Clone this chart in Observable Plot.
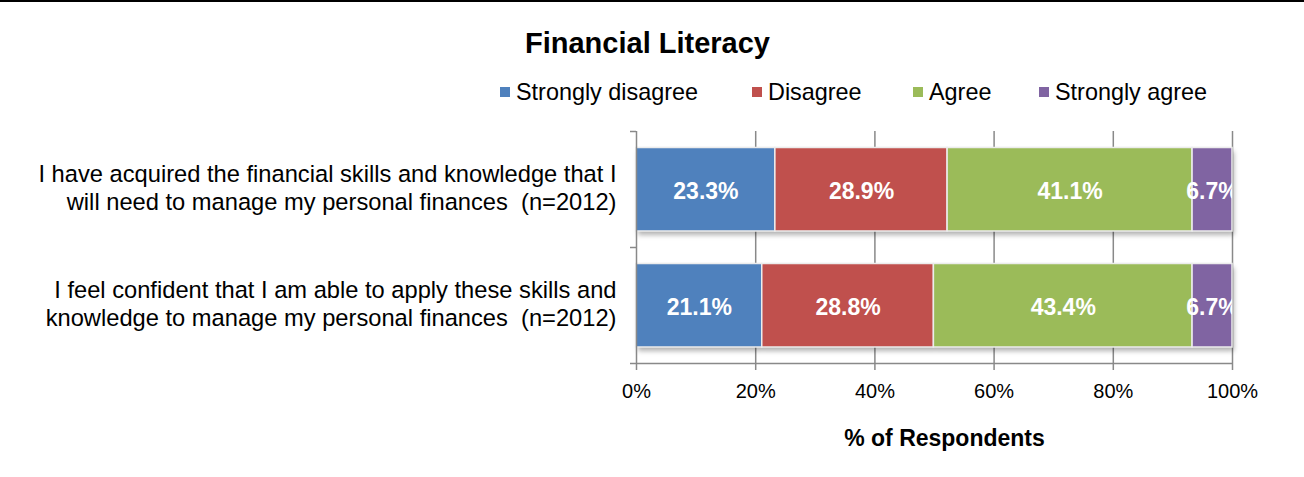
<!DOCTYPE html>
<html><head><meta charset="utf-8">
<script src="https://cdn.jsdelivr.net/npm/d3@7"></script>
<script src="https://cdn.jsdelivr.net/npm/@observablehq/plot@0.6"></script>
<style>
body{margin:0;background:#fff;font-family:"Liberation Sans",Arial,sans-serif;}
#wrap{width:1304px;height:477px;position:relative;overflow:hidden;background:#fff}
#head{position:relative;height:110px;border-top:2px solid #000;box-sizing:border-box}
#title{position:absolute;left:0;width:1295px;text-align:center;top:27px;font-size:29px;line-height:28px;font-weight:bold;color:#000}
.item{position:absolute;top:78.5px;font-size:23.4px;line-height:23px;color:#000;white-space:nowrap;padding-left:16px}
.sw{position:absolute;left:0;width:10px;height:10px;top:6.5px}
#chart svg{display:block}
</style></head><body>
<div id="wrap"><div id="head"><div id="title">Financial Literacy</div><div id="legend"></div></div><div id="chart"></div></div>
<script>
const statements = [
  "I have acquired the financial skills and knowledge that I\nwill need to manage my personal finances  (n=2012)",
  "I feel confident that I am able to apply these skills and\nknowledge to manage my personal finances  (n=2012)"
];
const responses = ["Strongly disagree", "Disagree", "Agree", "Strongly agree"];
const stronglyDisagree = [23.3, 21.1];
const disagree = [28.9, 28.8];
const agree = [41.1, 43.4];
const stronglyAgree = [6.7, 6.7];
const xTicks = [0, 20, 40, 60, 80, 100];
const colors = ["#4F81BD", "#C0504D", "#9BBB59", "#8064A2"];
const axisTitle = "% of Respondents";
const legendLefts = [500, 752, 913, 1039];

const series = [stronglyDisagree, disagree, agree, stronglyAgree];
const table = [];
statements.forEach((s, i) => {
  let acc = 0;
  series.forEach((vals, j) => {
    const v = vals[i];
    table.push({row: i, statement: s, response: responses[j], value: v, x1: acc, x2: acc + v});
    acc += v;
  });
});

// legend
const leg = document.getElementById("legend");
responses.forEach((r, j) => {
  const it = document.createElement("div");
  it.className = "item";
  it.style.left = legendLefts[j] + "px";
  const sw = document.createElement("span");
  sw.className = "sw";
  sw.style.background = colors[j];
  it.appendChild(sw);
  it.appendChild(document.createTextNode(r));
  leg.appendChild(it);
});

const gray = "#898989";
const font = '"Liberation Sans", Arial, sans-serif';
const chart = Plot.plot({
  width: 1304, height: 367,
  marginTop: 21, marginBottom: 114, marginLeft: 636, marginRight: 72,
  style: {fontFamily: font, background: "white", color: "black"},
  x: {domain: [0, 100]},
  y: {domain: [0, statements.length], reverse: true},
  color: {domain: responses, range: colors},
  marks: [
    Plot.ruleX(xTicks.slice(1), {stroke: gray, strokeWidth: 1.5}),
    Plot.rectX(table, {x1: "x1", x2: "x2", y1: "row", y2: d => d.row + 1, insetTop: 16.5, insetBottom: 16,
      fill: "#000", fillOpacity: 0.3, dx: 2, dy: 4, ariaDescription: "shadow"}),
    Plot.rectX(table, {x1: "x1", x2: "x2", y1: "row", y2: d => d.row + 1, insetTop: 16.5, insetBottom: 16,
      fill: "response", stroke: "#ececec", strokeWidth: 1.5}),
    Plot.text(table, {x: d => (d.x1 + d.x2) / 2, y: d => d.row + 0.5, text: d => d.value.toFixed(1) + "%",
      fill: "white", fontWeight: "bold", fontSize: 23, dy: 2, clip: true}),
    Plot.ruleX([0], {stroke: gray, strokeWidth: 1.5}),
    Plot.ruleY([statements.length], {stroke: gray, strokeWidth: 1.5}),
    Plot.axisX({ticks: xTicks, tickFormat: d => d + "%", tickSize: 7, tickPadding: 13, fontSize: 20,
      stroke: gray, strokeWidth: 1.5, fill: "black", label: null}),
    Plot.axisY({ticks: d3.range(statements.length + 1), tickFormat: () => "", tickSize: 6,
      stroke: gray, strokeWidth: 1.5, label: null}),
    Plot.axisY({ticks: statements.map((s, i) => i + 0.5), tickFormat: v => statements[Math.floor(v)],
      tickSize: 0, tickPadding: 20, fontSize: 23.7, lineHeight: 28 / 23.7, dy: -2.5, fill: "black", label: null}),
    Plot.text([axisTitle], {frameAnchor: "bottom", dx: 10, dy: 82, fontWeight: "bold", fontSize: 23, fill: "black"})
  ]
});
const ns = "http://www.w3.org/2000/svg";
const defs = document.createElementNS(ns, "defs");
defs.innerHTML = '<filter id="shadowblur" x="-10%" y="-50%" width="120%" height="200%"><feGaussianBlur stdDeviation="2.5"/></filter>';
chart.insertBefore(defs, chart.firstChild);
const sh = chart.querySelector('[aria-description="shadow"]');
if (sh) sh.setAttribute("filter", "url(#shadowblur)");
document.getElementById("chart").appendChild(chart);
</script></body></html>
